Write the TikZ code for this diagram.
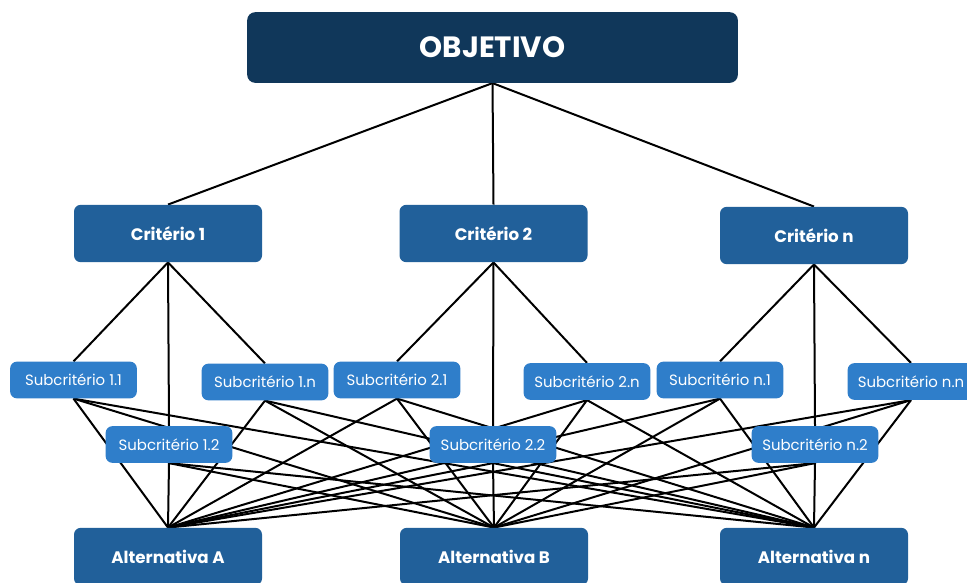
\documentclass[tikz,border=0pt]{standalone}
\usepackage{fontspec}
\setmainfont{Poppins}
\usetikzlibrary{backgrounds}
\definecolor{navy}{HTML}{10375A}
\definecolor{midblue}{HTML}{21609A}
\definecolor{lightblue}{HTML}{2F7ECA}
\tikzset{
  goalbox/.style={fill=navy, text=white, rounded corners=6pt, inner sep=0pt,
    minimum width=368pt, minimum height=53pt, font=\fontsize{22}{24}\selectfont\bfseries},
  critbox/.style={fill=midblue, text=white, rounded corners=5pt, inner sep=0pt,
    minimum width=141pt, minimum height=43pt, font=\fontsize{12.5}{14}\selectfont\bfseries},
  subbox/.style={fill=lightblue, text=white, rounded corners=5pt, inner sep=0pt,
    minimum width=95pt, minimum height=27.5pt, font=\fontsize{11.2}{13}\selectfont},
  link/.style={draw=black, line width=1.5pt}
}
\begin{document}
\begin{tikzpicture}[x=0.75pt,y=-0.75pt]
\useasboundingbox (0,0) rectangle (967,582);
% goal
\node[goalbox] (obj) at (492.5,47.5) {OBJETIVO};
% criteria
\node[critbox] (c1) at (168,233.5) {Critério 1};
\node[critbox] (c2) at (493.5,233.5) {Critério 2};
\node[critbox] (cn) at (814,235.5) {Critério n};
% subcriteria
\node[subbox] (s11) at (73.5,380) {Subcritério 1.1};
\node[subbox] (s1n) at (265,382) {Subcritério 1.n};
\node[subbox] (s12) at (169,444.5) {Subcritério 1.2};
\node[subbox] (s21) at (397,380) {Subcritério 2.1};
\node[subbox] (s2n) at (587,381.5) {Subcritério 2.n};
\node[subbox] (s22) at (493,444.5) {Subcritério 2.2};
\node[subbox] (sn1) at (720,380) {Subcritério n.1};
\node[subbox] (snn) at (911,381.5) {Subcritério n.n};
\node[subbox] (sn2) at (815,444.5) {Subcritério n.2};
% alternatives
\node[critbox] (aa) at (168,556.5) {Alternativa A};
\node[critbox] (ab) at (494,556.5) {Alternativa B};
\node[critbox] (an) at (814,556.5) {Alternativa n};
\begin{pgfonlayer}{background}
  \foreach \c in {c1,c2,cn} \draw[link] (obj.south) -- (\c.north);
  \foreach \s in {s11,s12,s1n} \draw[link] (c1.south) -- (\s.north);
  \foreach \s in {s21,s22,s2n} \draw[link] (c2.south) -- (\s.north);
  \foreach \s in {sn1,sn2,snn} \draw[link] (cn.south) -- (\s.north);
  \foreach \s in {s11,s12,s1n,s21,s22,s2n,sn1,sn2,snn}
    \foreach \a in {aa,ab,an}
      \draw[link] (\s.south) -- (\a.north);
\end{pgfonlayer}
\end{tikzpicture}
\end{document}
